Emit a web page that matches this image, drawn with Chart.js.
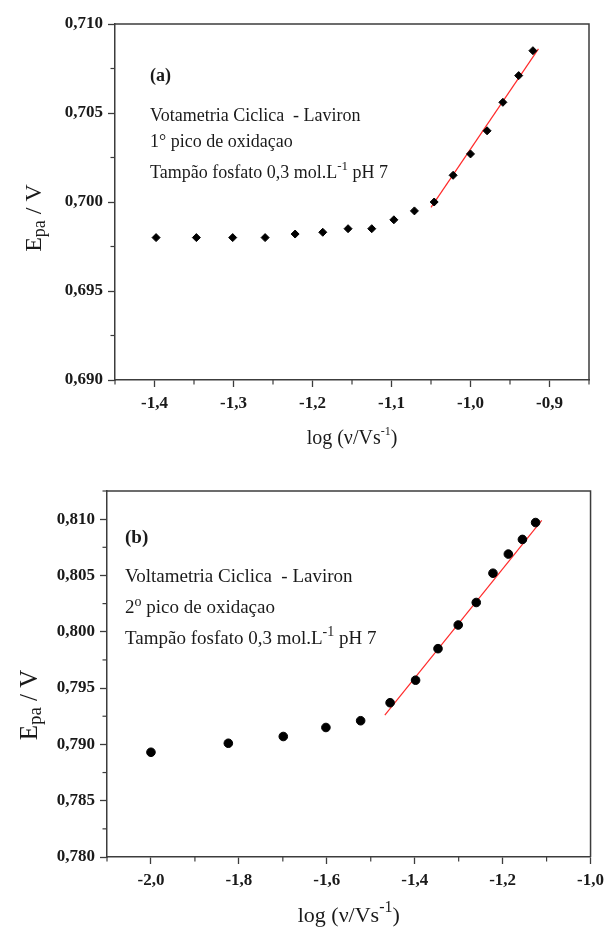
<!DOCTYPE html>
<html>
<head>
<meta charset="utf-8">
<script src="https://cdn.jsdelivr.net/npm/chart.js@4/dist/chart.umd.min.js"></script>
<style>
  body { margin: 0; background: #fff; width: 610px; height: 932px; position: relative; overflow: hidden; }
  canvas { position: absolute; left: 0; }
  #graphA { top: 0; }
  #graphB { top: 460px; }
</style>
</head>
<body>
<canvas id="graphA" width="610" height="460"></canvas>
<canvas id="graphB" width="610" height="472"></canvas>
<script>
// (a) 1º pico de oxidação
var logvA = [-1.398, -1.347, -1.301, -1.260, -1.222, -1.187, -1.155, -1.125, -1.097,
             -1.071, -1.046, -1.022, -1.000, -0.979, -0.959, -0.939, -0.921];
var epaA = [0.6980, 0.6980, 0.6980, 0.6980, 0.6982, 0.6983, 0.6985, 0.6985, 0.6990,
            0.6995, 0.7000, 0.7015, 0.7027, 0.7040, 0.7056, 0.7071, 0.7085];
var fitXA = [-1.050, -0.914];
var fitYA = [0.6997, 0.7086];
var ticksXA = [-1.4, -1.3, -1.2, -1.1, -1.0, -0.9];
var ticksYA = [0.690, 0.695, 0.700, 0.705, 0.710];

// (b) 2º pico de oxidação
var logvB = [-2.000, -1.824, -1.699, -1.602, -1.523, -1.456, -1.398,
             -1.347, -1.301, -1.260, -1.222, -1.187, -1.155, -1.125];
var epaB = [0.7893, 0.7901, 0.7907, 0.7915, 0.7921, 0.7937, 0.7957,
            0.7985, 0.8006, 0.8026, 0.8052, 0.8069, 0.8082, 0.8097];
var fitXB = [-1.468, -1.111];
var fitYB = [0.7926, 0.8099];
var ticksXB = [-2.0, -1.8, -1.6, -1.4, -1.2, -1.0];
var ticksYB = [0.780, 0.785, 0.790, 0.795, 0.800, 0.805, 0.810];

const serif = '"Liberation Serif", "Times New Roman", serif';
const ink = '#1a1a1a';
const axisInk = '#3c3c3c';

function fmt(v, d) { return v.toFixed(d).replace('.', ','); }

// half-step ticks between the labelled ones
function minorTicks(majors, min, max) {
  var step = majors[1] - majors[0];
  var out = [];
  for (var v = majors[0] - step / 2; v <= max + 1e-9; v += step) {
    if (v >= min - 1e-9) out.push(v);
  }
  return out;
}

function pts(xs, ys) { return xs.map((x, i) => ({ x: x, y: ys[i] })); }

// text pieces drawn one after another (for sub/superscripts)
function drawRun(ctx, parts, x, y, align) {
  var w = 0;
  parts.forEach(p => { ctx.font = p.font; w += ctx.measureText(p.t).width; });
  var cx = align === 'center' ? x - w / 2 : x;
  parts.forEach(p => {
    ctx.font = p.font;
    ctx.fillText(p.t, cx, y + (p.dy || 0));
    cx += ctx.measureText(p.t).width;
  });
}

const deco = {
  id: 'deco',
  afterDraw(chart, args, o) {
    const ctx = chart.ctx, a = chart.chartArea;
    const sx = chart.scales.x, sy = chart.scales.y;
    ctx.save();
    // closing frame
    ctx.strokeStyle = axisInk;
    ctx.lineWidth = 1.5;
    ctx.beginPath();
    ctx.moveTo(a.left, a.top);
    ctx.lineTo(a.right, a.top);
    ctx.lineTo(a.right, a.bottom);
    ctx.stroke();
    // minor ticks
    ctx.lineWidth = 1.2;
    o.minorX.forEach(v => {
      const p = sx.getPixelForValue(v);
      ctx.beginPath(); ctx.moveTo(p, a.bottom); ctx.lineTo(p, a.bottom + 4.5); ctx.stroke();
    });
    o.minorY.forEach(v => {
      const p = sy.getPixelForValue(v);
      ctx.beginPath(); ctx.moveTo(a.left, p); ctx.lineTo(a.left - 4.5, p); ctx.stroke();
    });
    ctx.fillStyle = ink;
    ctx.textAlign = 'left';
    ctx.textBaseline = 'alphabetic';
    o.notes.forEach(n => drawRun(ctx, n.parts, a.left + n.dx, a.top + n.dy, 'left'));
    drawRun(ctx, o.xTitle, (a.left + a.right) / 2, a.bottom + o.xTitleDy, 'center');
    ctx.translate(o.yTitleX, (a.top + a.bottom) / 2 + o.yTitleShift);
    ctx.rotate(-Math.PI / 2);
    drawRun(ctx, o.yTitle, 0, 0, 'center');
    ctx.restore();
  }
};
Chart.register(deco);

function axis(opts) {
  return {
    type: 'linear',
    min: opts.min,
    max: opts.max,
    afterBuildTicks: s => { s.ticks = opts.ticks.map(v => ({ value: v })); },
    afterFit: opts.fit,
    ticks: {
      font: { family: serif, size: 17, weight: 'bold' },
      color: ink,
      padding: opts.pad,
      autoSkip: false,
      maxRotation: 0,
      callback: v => fmt(v, opts.dec)
    },
    grid: { drawOnChartArea: false, drawTicks: true, tickLength: 7, tickColor: axisInk, tickWidth: 1.3 },
    border: { display: true, color: axisInk, width: 1.5 }
  };
}

function makeChart(id, cfg) {
  return new Chart(document.getElementById(id), {
    type: 'scatter',
    data: {
      datasets: [{
        label: 'Epa',
        data: pts(cfg.xs, cfg.ys),
        pointStyle: cfg.marker,
        pointRadius: cfg.radius,
        backgroundColor: '#000',
        borderColor: '#000',
        borderWidth: 1
      }, {
        label: 'ajuste',
        data: pts(cfg.fitX, cfg.fitY),
        showLine: true,
        pointRadius: 0,
        borderColor: '#ff2a2a',
        borderWidth: 1.2
      }]
    },
    options: {
      responsive: false,
      animation: false,
      layout: { padding: cfg.padding },
      plugins: {
        legend: { display: false },
        tooltip: { enabled: false },
        deco: cfg.deco
      },
      scales: {
        x: axis({ min: cfg.xMin, max: cfg.xMax, ticks: cfg.ticksX, dec: 1, pad: 6,
                  fit: s => { s.height = cfg.xAxisH; } }),
        y: axis({ min: cfg.yMin, max: cfg.yMax, ticks: cfg.ticksY, dec: 3, pad: 5,
                  fit: s => { s.width = cfg.yAxisW; } })
      }
    }
  });
}

const chartA = makeChart('graphA', {
  xs: logvA, ys: epaA, fitX: fitXA, fitY: fitYA,
  marker: 'rectRot', radius: 4,
  xMin: -1.45, xMax: -0.85, yMin: 0.690, yMax: 0.710,
  ticksX: ticksXA, ticksY: ticksYA,
  padding: { top: 24, right: 21, left: 0, bottom: 0 },
  xAxisH: 80, yAxisW: 115,
  deco: {
    minorX: minorTicks(ticksXA, -1.45, -0.85),
    minorY: minorTicks(ticksYA, 0.690, 0.710),
    notes: [
      { dx: 35, dy: 57, parts: [{ t: '(a)', font: 'bold 18px ' + serif }] },
      { dx: 35, dy: 97, parts: [{ t: 'Votametria Ciclica  - Laviron', font: '18px ' + serif }] },
      { dx: 35, dy: 123, parts: [{ t: '1° pico de oxidaçao', font: '18px ' + serif }] },
      { dx: 35, dy: 154, parts: [
        { t: 'Tampão fosfato 0,3 mol.L', font: '18px ' + serif },
        { t: '-1', font: '13px ' + serif, dy: -8 },
        { t: ' pH 7', font: '18px ' + serif }] }
    ],
    xTitle: [
      { t: 'log (ν/Vs', font: '20px ' + serif },
      { t: '-1', font: '12px ' + serif, dy: -9 },
      { t: ')', font: '20px ' + serif }],
    xTitleDy: 64,
    yTitle: [
      { t: 'E', font: '24px ' + serif },
      { t: 'pa', font: '18px ' + serif, dy: 4 },
      { t: ' / V', font: '24px ' + serif }],
    yTitleX: 41,
    yTitleShift: 16
  }
});

const chartB = makeChart('graphB', {
  xs: logvB, ys: epaB, fitX: fitXB, fitY: fitYB,
  marker: 'circle', radius: 4.3,
  xMin: -2.1, xMax: -1.0, yMin: 0.780, yMax: 0.8125,
  ticksX: ticksXB, ticksY: ticksYB,
  padding: { top: 31, right: 15, left: 0, bottom: 0 },
  xAxisH: 75, yAxisW: 107,
  deco: {
    minorX: minorTicks(ticksXB, -2.1, -1.0),
    minorY: minorTicks(ticksYB, 0.780, 0.8125),
    notes: [
      { dx: 18, dy: 52, parts: [{ t: '(b)', font: 'bold 19px ' + serif }] },
      { dx: 18, dy: 91, parts: [{ t: 'Voltametria Ciclica  - Laviron', font: '19px ' + serif }] },
      { dx: 18, dy: 122, parts: [
        { t: '2', font: '19px ' + serif },
        { t: 'o', font: '14px ' + serif, dy: -7 },
        { t: ' pico de oxidaçao', font: '19px ' + serif }] },
      { dx: 18, dy: 153, parts: [
        { t: 'Tampão fosfato 0,3 mol.L', font: '19px ' + serif },
        { t: '-1', font: '14px ' + serif, dy: -8 },
        { t: ' pH 7', font: '19px ' + serif }] }
    ],
    xTitle: [
      { t: 'log (ν/Vs', font: '22px ' + serif },
      { t: '-1', font: '16px ' + serif, dy: -10 },
      { t: ')', font: '22px ' + serif }],
    xTitleDy: 65,
    yTitle: [
      { t: 'E', font: '25px ' + serif },
      { t: 'pa', font: '19px ' + serif, dy: 4 },
      { t: ' / V', font: '25px ' + serif }],
    yTitleX: 37,
    yTitleShift: 31
  }
});
</script>
</body>
</html>
